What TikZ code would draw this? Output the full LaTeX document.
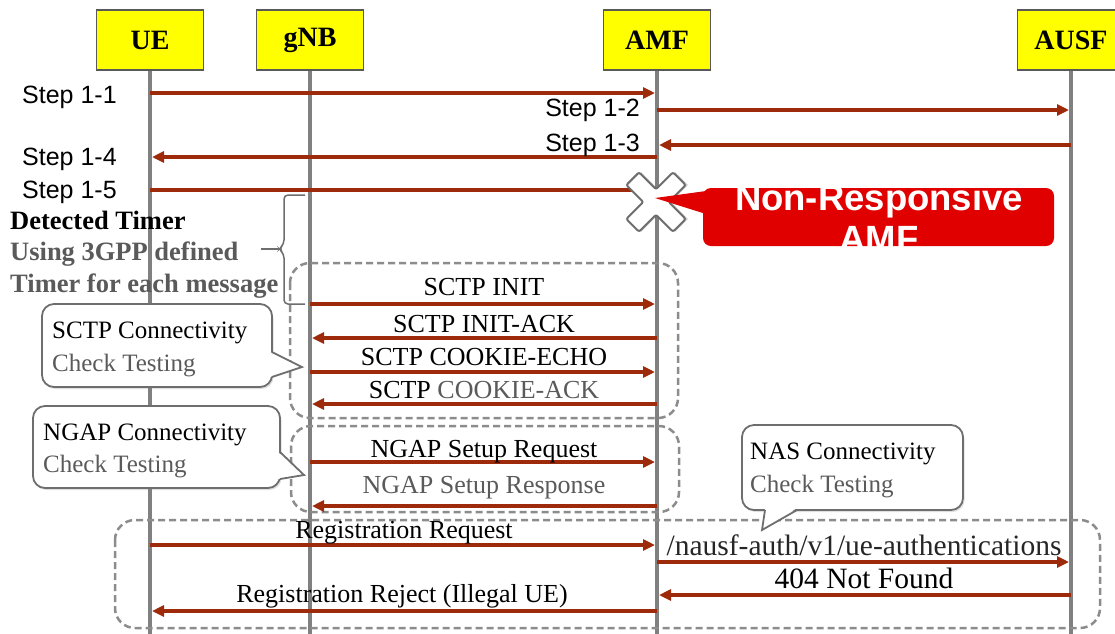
\documentclass[tikz,border=0pt]{standalone}
\usepackage{fontspec}
\setmainfont{Liberation Serif}
\newfontfamily\arialf{Liberation Sans}
\usetikzlibrary{arrows.meta,shadows}
\definecolor{msgred}{RGB}{158,42,12}
\definecolor{lifegray}{RGB}{128,128,128}
\definecolor{boxgray}{RGB}{140,140,140}
\definecolor{txtgray}{RGB}{90,90,90}
\definecolor{alertred}{RGB}{224,0,0}
\definecolor{hdryellow}{RGB}{255,255,0}
\definecolor{edgegray}{RGB}{110,110,110}
\begin{document}
\begin{tikzpicture}[x=1pt,y=-1pt,
 hdr/.style={draw=black!65, line width=1.2pt, fill=hdryellow, minimum width=107pt, minimum height=60pt,
   font=\fontsize{28}{30}\selectfont\bfseries, inner sep=0pt},
 life/.style={draw=lifegray, line width=4.5pt},
 msg/.style={draw=msgred, line width=3.6pt, shorten >=2pt, -{Triangle[length=12pt,width=11pt]}},
 msgline/.style={draw=msgred, line width=3.6pt},
 lbl/.style={font=\fontsize{26}{28}\selectfont, inner sep=0pt, anchor=base},
 biglbl/.style={font=\fontsize{29.5}{31}\selectfont, inner sep=0pt, anchor=base},
 steplbl/.style={font=\arialf\fontsize{25}{27}\selectfont, inner sep=0pt, anchor=base west},
 brtxt/.style={font=\fontsize{26.5}{28}\selectfont\bfseries, inner sep=0pt, anchor=base west},
 grp/.style={draw=boxgray, line width=2.5pt, dash pattern=on 7pt off 4pt, rounded corners=20pt},
 cbox/.style={draw=edgegray, line width=1.8pt, fill=white, rounded corners=12pt,
   drop shadow={opacity=0.25, shadow xshift=1.5pt, shadow yshift=-2pt}},
 cline/.style={draw=edgegray, line width=1.8pt, line join=miter},
 ctext/.style={font=\fontsize{25}{27}\selectfont, inner sep=0pt, anchor=base west},
]
\useasboundingbox (0,0) rectangle (1115,633);
\clip (0,0) rectangle (1115,633);
\fill[white] (0,0) rectangle (1115,633);

% headers
\node[hdr] (UE) at (150,40) {UE};
\node[hdr] (gNB) at (310,40) {gNB};
\node[hdr] (AMF) at (657,40) {AMF};
\node[hdr] (AUSF) at (1071,40) {AUSF};

% lifelines
\draw[life] (UE.south) -- (UE.south |- 0,640);
\draw[life] (gNB.south) -- (gNB.south |- 0,640);
\draw[life] (AMF.south) -- (AMF.south |- 0,640);
\draw[life] (AUSF.south) -- (AUSF.south |- 0,640);

% steps
\draw[msg] (UE.south |- 0,93) -- (AMF.south |- 0,93);
\draw[msg] (AMF.south |- 0,110) -- (AUSF.south |- 0,110);
\draw[msg] (AUSF.south |- 0,145) -- (AMF.south |- 0,145);
\draw[msg] (AMF.south |- 0,157) -- (UE.south |- 0,157);
\draw[msgline] (UE.south |- 0,190) -- (AMF.south |- 0,190);
\node[steplbl] (s11) at (22,103) {Step 1-1};
\node[steplbl, anchor=base east] (s12) at (640,116) {Step 1-2};
\node[steplbl, anchor=base east] (s13) at (640,151) {Step 1-3};
\node[steplbl] (s14) at (22,165) {Step 1-4};
\node[steplbl] (s15) at (22,198) {Step 1-5};

% cross on AMF
\begin{scope}[shift={(656,202)}, rotate=45]
  \fill[black, opacity=0.2, shift={(1.5,1.5)}] (-33,-9) -- (-9,-9) -- (-9,-33) -- (9,-33) -- (9,-9) -- (33,-9) -- (33,9) -- (9,9) -- (9,33) -- (-9,33) -- (-9,9) -- (-33,9) -- cycle;
  \filldraw[fill=white, draw=edgegray, line width=2pt, rounded corners=2pt]
    (-33,-9) -- (-9,-9) -- (-9,-33) -- (9,-33) -- (9,-9) -- (33,-9) -- (33,9) -- (9,9) -- (9,33) -- (-9,33) -- (-9,9) -- (-33,9) -- cycle;
\end{scope}
\coordinate (xmark) at (655,198);

% red alert
\fill[alertred] (xmark) -- (706,191) -- (706,214) -- cycle;
\fill[alertred, rounded corners=8pt] (703,188) rectangle (1054,246);
\begin{scope}
  \clip[rounded corners=8pt] (703,188) rectangle (1054,246);
  \node[font=\arialf\bfseries\fontsize{36.5}{40}\selectfont, text=white, inner sep=0pt, anchor=base] (nr1) at (879,210) {Non-Responsive};
  \node[font=\arialf\bfseries\fontsize{36.5}{40}\selectfont, text=white, inner sep=0pt, anchor=base] (nr2) at (879,251) {AMF};
\end{scope}

% brace text
\node[brtxt] (dt1) at (10,229) {Detected Timer};
\node[brtxt, text=txtgray] (dt2) at (10,260) {Using 3GPP defined};
\node[brtxt, text=txtgray] (dt3) at (10,292) {Timer for each message};
\draw[draw=edgegray, line width=1.5pt, rounded corners=4pt]
  (305,195) -- (284,195) -- (284,244) -- (279,249) -- (284,254) -- (284,304) -- (305,304);
\draw[draw=edgegray, line width=1.5pt] (279,249) -- (261,249);

% groups
\draw[grp] (290,263) rectangle (678,418);
\draw[grp] (291,426) rectangle (679,512);
\draw[grp] (115,520) rectangle (1100,628);

% SCTP
\draw[msg] (gNB.south |- 0,304) -- (AMF.south |- 0,304);
\node[lbl] (m1) at (484,295) {SCTP INIT};
\draw[msg] (AMF.south |- 0,338) -- (gNB.south |- 0,338);
\node[lbl] (m2) at (484,332) {SCTP INIT-ACK};
\draw[msg] (gNB.south |- 0,372) -- (AMF.south |- 0,372);
\node[lbl] (m3) at (484,365) {SCTP COOKIE-ECHO};
\draw[msg] (AMF.south |- 0,404) -- (gNB.south |- 0,404);
\node[lbl] (m4) at (484,398) {SCTP \textcolor{txtgray}{COOKIE-ACK}};

% NGAP
\draw[msg] (gNB.south |- 0,462) -- (AMF.south |- 0,462);
\node[lbl] (m5) at (484,457) {NGAP Setup Request};
\draw[msg] (AMF.south |- 0,506) -- (gNB.south |- 0,506);
\node[lbl, text=txtgray] (m6) at (484,493) {NGAP Setup Response};

% Registration
\draw[msg] (UE.south |- 0,545) -- (AMF.south |- 0,545);
\node[lbl] (m7) at (404,538) {Registration Request};
\draw[msg] (AMF.south |- 0,562) -- (AUSF.south |- 0,562);
\node[biglbl, text=black!85] (m8) at (864,555) {/nausf-auth/v1/ue-authentications};
\draw[msg] (AUSF.south |- 0,595) -- (AMF.south |- 0,595);
\node[biglbl] (m9) at (864,588) {404 Not Found};
\draw[msg] (AMF.south |- 0,611) -- (UE.south |- 0,611);
\node[lbl] (m10) at (402,602) {Registration Reject (Illegal UE)};

% callouts
\filldraw[cbox] (42,304) rectangle (272,387);
\fill[white] (270,352) -- (302,367) -- (270,377) -- cycle;
\draw[cline] (272,352) -- (302,367) -- (272,377);
\node[ctext] (c1a) at (52,338) {SCTP Connectivity};
\node[ctext, text=txtgray] (c1b) at (52,371) {Check Testing};

\filldraw[cbox] (33,406) rectangle (280,488);
\fill[white] (278,452) -- (304,475) -- (278,479) -- cycle;
\draw[cline] (280,452) -- (304,475) -- (280,479);
\node[ctext] (c2a) at (43,440) {NGAP Connectivity};
\node[ctext, text=txtgray] (c2b) at (43,472) {Check Testing};

\filldraw[cbox] (742,425) rectangle (963,510);
\fill[white] (765,508) -- (762,530) -- (797,508) -- cycle;
\draw[cline] (765,510) -- (762,530) -- (797,510);
\node[ctext] (c3a) at (750,459) {NAS Connectivity};
\node[ctext, text=txtgray] (c3b) at (750,492) {Check Testing};
\end{tikzpicture}
\end{document}
